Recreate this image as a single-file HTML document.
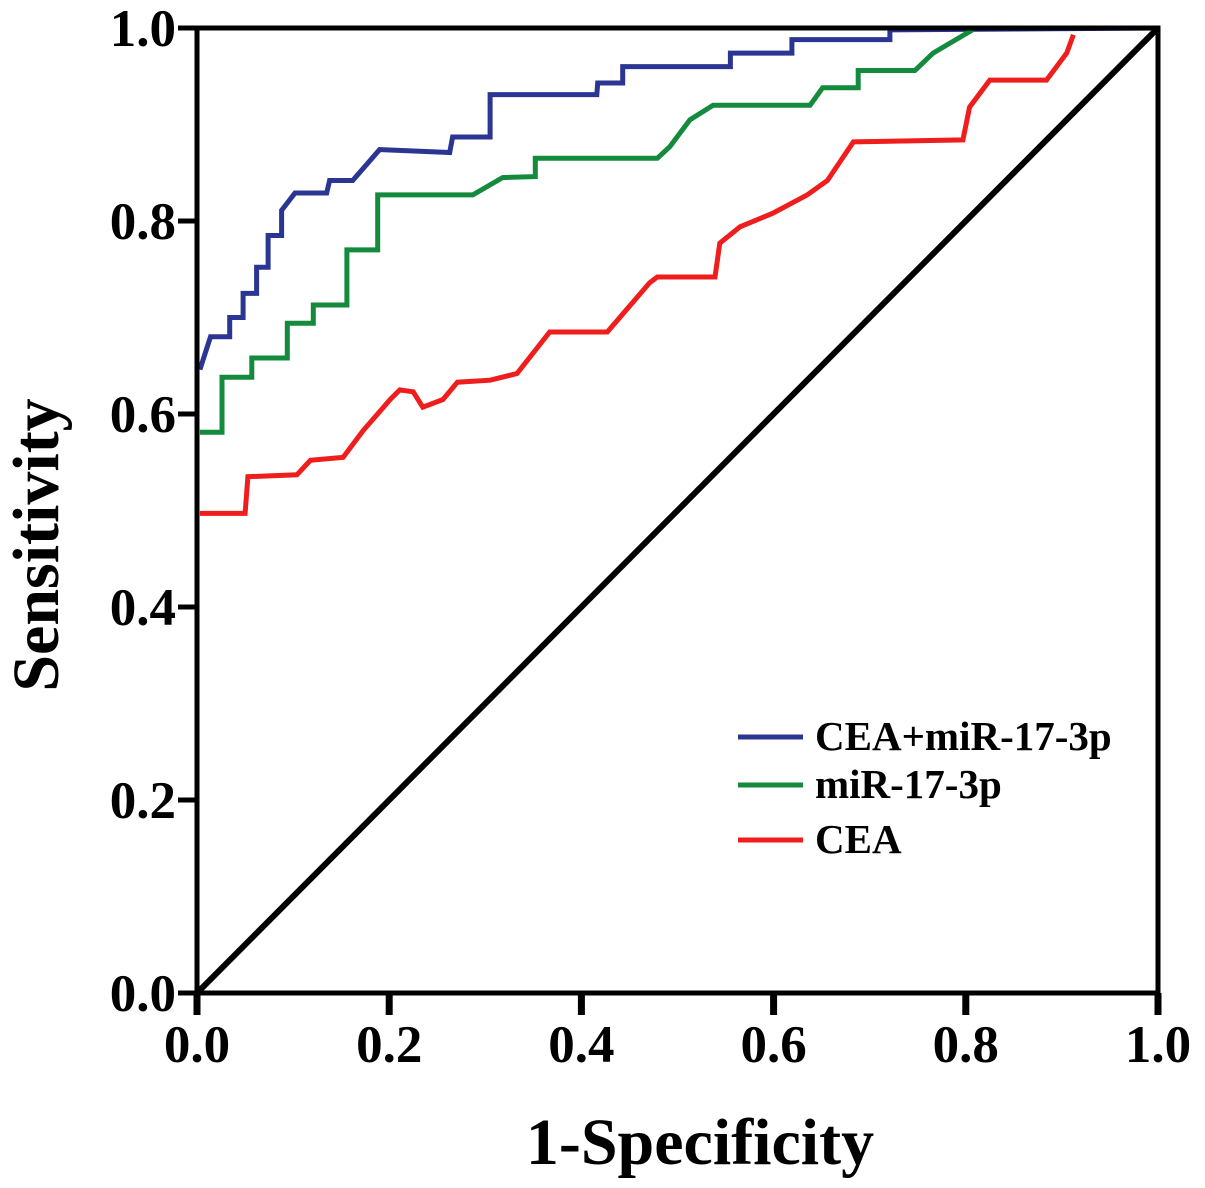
<!DOCTYPE html>
<html><head><meta charset="utf-8"><style>
html,body{margin:0;padding:0;background:#fff;}
svg{display:block;}
text{font-family:"Liberation Serif",serif;font-weight:bold;fill:#000;}
</style></head><body>
<svg id="chart" width="1205" height="1188" viewBox="0 0 1205 1188">
<g id="plot"></g>
</svg>
<script>
const tickValues = [0, 0.2, 0.4, 0.6, 0.8, 1.0];
const tickLabels = ["0.0", "0.2", "0.4", "0.6", "0.8", "1.0"];
const seriesNames = ["CEA+miR-17-3p", "miR-17-3p", "CEA"];
const seriesColors = ["#2b3592", "#138a3c", "#f01d1d"];
const blueFpr = [0.003,0.014,0.034,0.034,0.048,0.048,0.062,0.062,0.074,0.074,0.088,0.088,0.102,0.135,0.138,0.162,0.190,0.263,0.266,0.305,0.305,0.416,0.417,0.443,0.443,0.555,0.555,0.619,0.619,0.721,0.721,1];
const blueTpr = [0.646,0.680,0.680,0.700,0.700,0.725,0.725,0.752,0.752,0.785,0.785,0.811,0.829,0.829,0.842,0.842,0.874,0.871,0.887,0.887,0.931,0.931,0.943,0.943,0.960,0.960,0.974,0.974,0.988,0.988,0.998,1];
const greenFpr = [0.003,0.026,0.026,0.057,0.057,0.094,0.094,0.121,0.121,0.156,0.156,0.188,0.188,0.287,0.318,0.352,0.352,0.479,0.492,0.513,0.537,0.638,0.651,0.688,0.688,0.747,0.766,0.807];
const greenTpr = [0.581,0.581,0.638,0.638,0.658,0.658,0.694,0.694,0.713,0.713,0.770,0.770,0.827,0.827,0.845,0.846,0.865,0.865,0.877,0.905,0.920,0.920,0.938,0.938,0.956,0.956,0.974,0.998];
const redFpr = [0.003,0.050,0.053,0.104,0.118,0.152,0.173,0.201,0.211,0.225,0.235,0.256,0.271,0.305,0.333,0.367,0.427,0.471,0.479,0.539,0.544,0.565,0.599,0.635,0.656,0.683,0.797,0.804,0.825,0.884,0.905,0.912];
const redTpr = [0.497,0.497,0.535,0.537,0.552,0.555,0.583,0.615,0.625,0.623,0.607,0.615,0.633,0.635,0.642,0.685,0.685,0.736,0.742,0.742,0.777,0.794,0.808,0.827,0.842,0.882,0.884,0.918,0.946,0.946,0.974,0.993];

const X0=197, X1=1158, Y0=993, Y1=28;
const sx = v => X0 + v*(X1-X0);
const sy = v => Y0 - v*(Y0-Y1);
const NS='http://www.w3.org/2000/svg';
const g=document.getElementById('plot');
function mk(tag, attrs){const e=document.createElementNS(NS,tag);for(const k in attrs)e.setAttribute(k,attrs[k]);g.appendChild(e);return e;}

let d=mk('line',{x1:sx(0),y1:sy(0),x2:sx(1),y2:sy(1),stroke:'#000','stroke-width':6});



const series=[[blueFpr,blueTpr],[greenFpr,greenTpr],[redFpr,redTpr]];
const sNames=['cea-mir-17-3p-curve','mir-17-3p-curve','cea-curve'];
series.forEach((s,i)=>{
  const pts=s[0].map((x,j)=>sx(x).toFixed(1)+','+sy(s[1][j]).toFixed(1)).join(' ');
  const p=mk('polyline',{points:pts,fill:'none',stroke:seriesColors[i],'stroke-width':5,'stroke-linejoin':'miter'});
  
  
});

let f=mk('rect',{x:X0,y:Y1,width:X1-X0,height:Y0-Y1,fill:'none',stroke:'#000','stroke-width':5});



tickValues.forEach((v,i)=>{
  let t=mk('line',{x1:X0-19,y1:sy(v),x2:X0,y2:sy(v),stroke:'#000','stroke-width':5});
  
  
  let l=mk('text',{x:176,y:sy(v)+18,'font-size':53,'text-anchor':'end'});
  l.textContent=tickLabels[i];
  
  
  let tx=mk('line',{x1:sx(v),y1:Y0,x2:sx(v),y2:Y0+22,stroke:'#000','stroke-width':7});
  
  
  let lx=mk('text',{x:sx(v),y:1062,'font-size':53,'text-anchor':'middle'});
  lx.textContent=tickLabels[i];
  
  
});

let xt=mk('text',{x:700,y:1164,'font-size':66,'text-anchor':'middle'});
xt.textContent='1-Specificity';


let yt=mk('text',{x:0,y:0,'font-size':66,'text-anchor':'middle',transform:'translate(58,545) rotate(-90)'});
yt.textContent='Sensitivity';



const legY=[737,785,840];
seriesNames.forEach((n,i)=>{
  let ln=mk('line',{x1:738,y1:legY[i],x2:803,y2:legY[i],stroke:seriesColors[i],'stroke-width':5});
  
  
  let tx=mk('text',{x:815,y:legY[i]+13,'font-size':41});
  tx.textContent=n;
  
  
});
</script>
</body></html>
